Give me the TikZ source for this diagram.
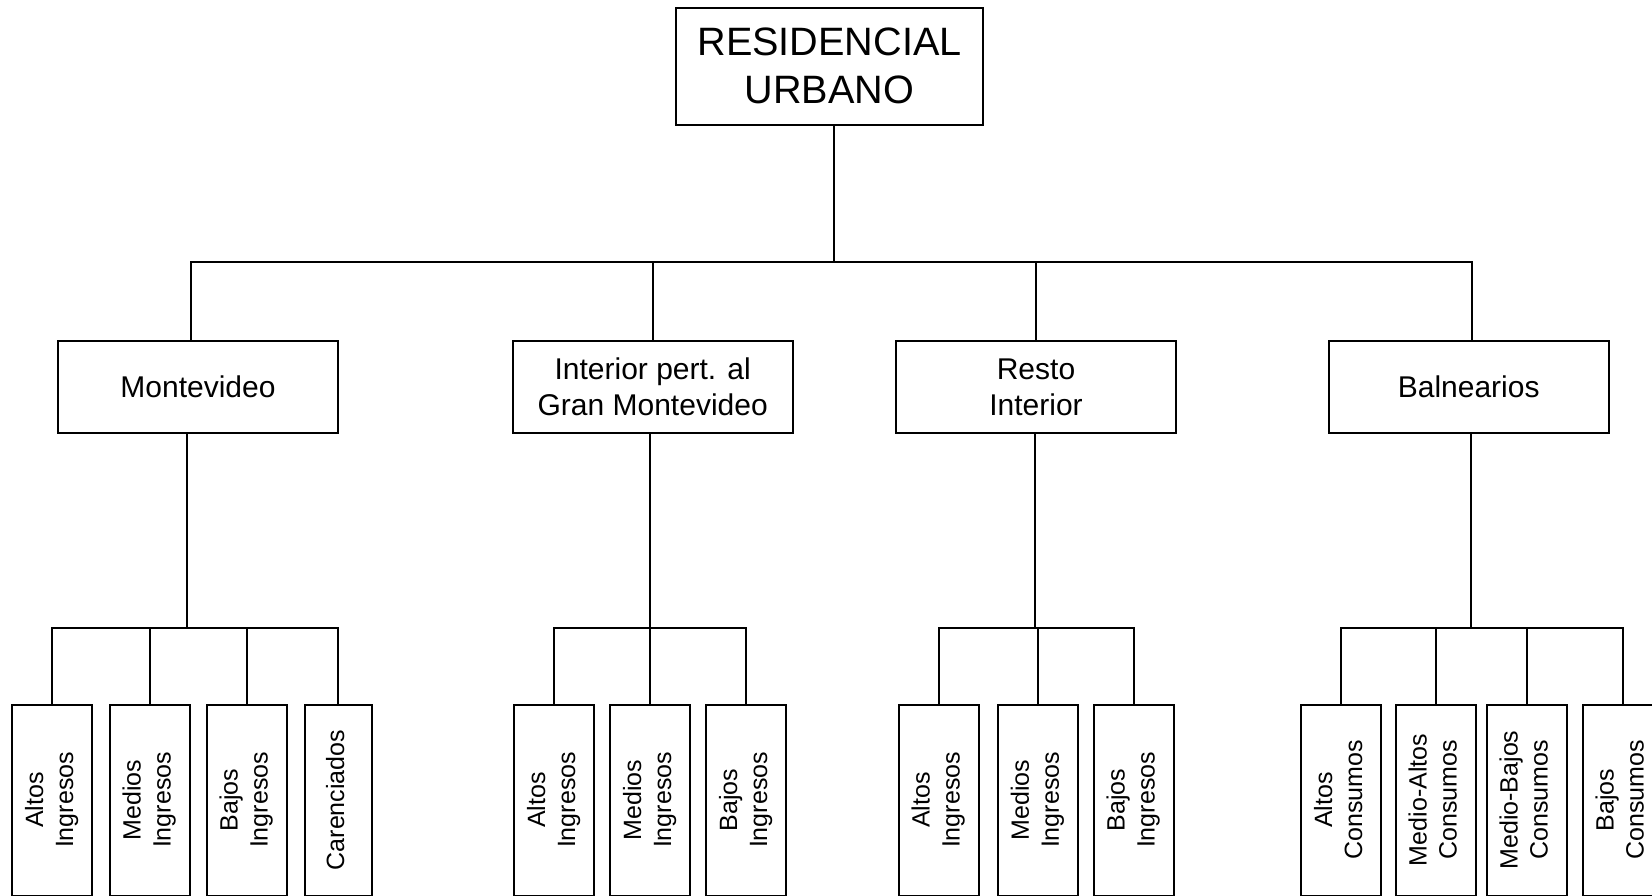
\documentclass[tikz,border=0pt]{standalone}
\usepackage{fontspec}
\setmainfont{Liberation Sans}
\usepackage{graphicx}
\newcommand{\vtext}[1]{\rotatebox{90}{\begin{tabular}{@{}c@{}}#1\end{tabular}}}

\begin{document}
\begin{tikzpicture}[x=0.5pt,y=-0.5pt,line width=1pt,
	box/.style={draw,rectangle,inner sep=0pt,align=center},
	rootbox/.style={box,minimum width=153.5pt,minimum height=58.5pt,
		font=\fontsize{19.8}{24.2}\selectfont},
	zone/.style={box,minimum width=140pt,minimum height=45.8pt,
		font=\fontsize{15}{17.9}\selectfont},
	leaf/.style={box,minimum width=40pt,minimum height=95.5pt,
		font=\fontsize{12.5}{15}\selectfont}]
	\useasboundingbox (0,0) rectangle (1652,895);
	\node[rootbox](R) at (829.5,66){RESIDENCIAL\\URBANO};
	\node[zone](M) at (198,387){Montevideo};
	\node[zone](G) at (652.7,387){Interior pert. al\\Gran Montevideo};
	\node[zone](I) at (1036,387){Resto\\Interior};
	\node[zone](B) at (1468.7,387){Balnearios};
	
	\node[leaf](M1) at (52.2,800){\vtext{Altos\\Ingresos}};
	\node[leaf](M2) at (149.6,800){\vtext{Medios\\Ingresos}};
	\node[leaf](M3) at (246.5,800){\vtext{Bajos\\Ingresos}};
	\node[leaf,minimum width=33.7pt](M4) at (338.2,800){\vtext{Carenciados}};
	\node[leaf](G1) at (554.2,800){\vtext{Altos\\Ingresos}};
	\node[leaf](G2) at (650,800){\vtext{Medios\\Ingresos}};
	\node[leaf](G3) at (746,800){\vtext{Bajos\\Ingresos}};
	\node[leaf](I1) at (938.7,800){\vtext{Altos\\Ingresos}};
	\node[leaf](I2) at (1037.8,800){\vtext{Medios\\Ingresos}};
	\node[leaf](I3) at (1133.7,800){\vtext{Bajos\\Ingresos}};
	\node[leaf](B1) at (1341.2,800){\vtext{Altos\\Consumos}};
	\node[leaf](B2) at (1435.5,800){\vtext{Medio-Altos\\Consumos}};
	\node[leaf](B3) at (1526.6,800){\vtext{Medio-Bajos\\Consumos}};
	\node[leaf](B4) at (1622.5,800){\vtext{Bajos\\Consumos}};
	
	\coordinate (Rj) at (834,262);
	\coordinate (Mj) at (186.5,628);
	\coordinate (Gj) at (650,628);
	\coordinate (Ij) at (1034.6,628);
	\coordinate (Bj) at (1470.8,628);
	
	\draw (R.south -| Rj) -- (Rj);
	\draw ([xshift=-3.6pt]M.north) |- (Rj) -| ([xshift=1.6pt]B.north);
	\draw (G.north) -- (G.north |- Rj);
	\draw (I.north) -- (I.north |- Rj);
	
	\draw (M.south -| Mj) -- (Mj);
	\draw (M1.north) |- (Mj) -| (M4.north);
	\draw (M2.north) -- (M2.north |- Mj);
	\draw (M3.north) -- (M3.north |- Mj);
	
	\draw (G.south -| Gj) -- (Gj);
	\draw (G1.north) |- (Gj) -| (G3.north);
	\draw (G2.north) -- (G2.north |- Gj);
	
	\draw (I.south -| Ij) -- (Ij);
	\draw (I1.north) |- (Ij) -| (I3.north);
	\draw (I2.north) -- (I2.north |- Ij);
	
	\draw (B.south -| Bj) -- (Bj);
	\draw (B1.north) |- (Bj) -| (B4.north);
	\draw (B2.north) -- (B2.north |- Bj);
	\draw (B3.north) -- (B3.north |- Bj);
\end{tikzpicture}
\end{document}
